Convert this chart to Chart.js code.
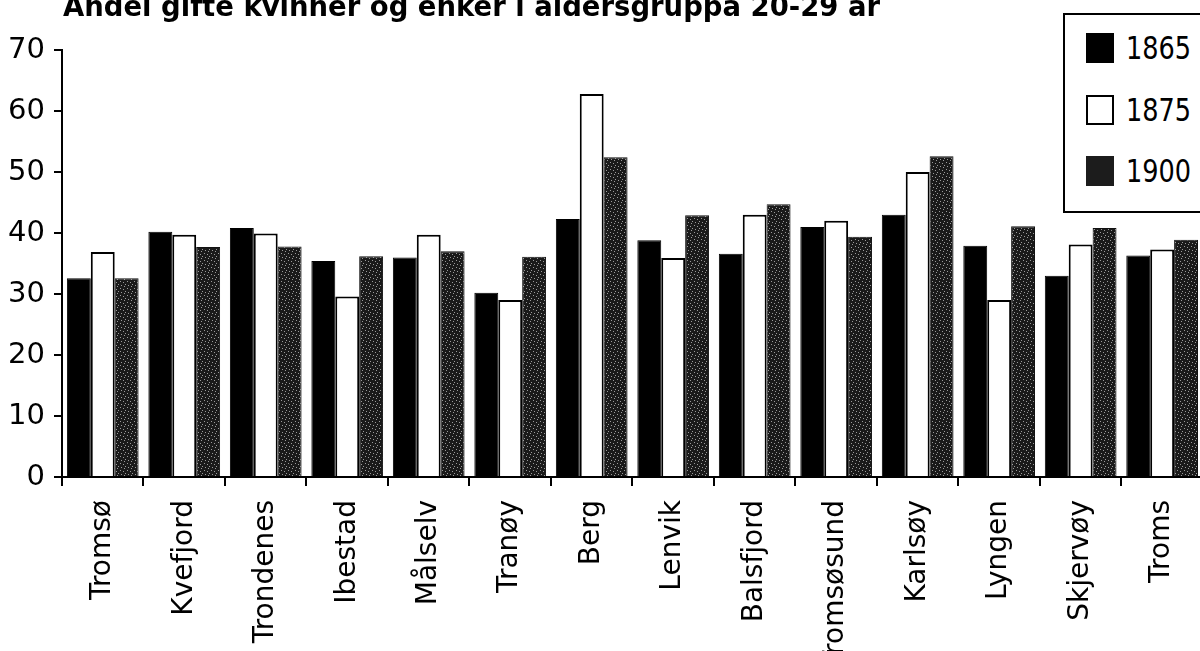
<!DOCTYPE html>
<html>
<head>
<meta charset="utf-8">
<script src="https://cdn.jsdelivr.net/npm/chart.js@4"></script>
<style>
    body { margin: 0; background: #fff; overflow: hidden; width: 1200px; height: 651px; position: relative; }
    #wrap { position: absolute; left: 0; top: 0; width: 1210px; height: 651px; }
    #legend {
        position: absolute; left: 1063px; top: 13px; width: 160px; height: 196px;
        border: 2px solid #000; background: #fff; font-family: "DejaVu Sans", sans-serif;
    }
    .item { position: absolute; left: 21px; height: 30px; display: flex; align-items: center; }
    .sw { width: 28px; height: 30px; box-sizing: border-box; margin-right: 12px; }
    .lbl { font-size: 32px; display: inline-block; transform: scaleX(0.8); transform-origin: left center; color: #000; }
</style>
</head>
<body>
<div id="wrap"><canvas id="chart"></canvas></div>
<div id="legend">
    <div class="item" style="top:18px"><div class="sw" style="background:#000"></div><span class="lbl">1865</span></div>
    <div class="item" style="top:80px"><div class="sw" style="background:#fff;border:2px solid #000"></div><span class="lbl">1875</span></div>
    <div class="item" style="top:141px"><div class="sw" style="background:#1c1c1c"></div><span class="lbl">1900</span></div>
</div>
<script>
// Andel gifte kvinner og enker, 20-29 år
const kommuner = ['Tromsø', 'Kvefjord', 'Trondenes', 'Ibestad', 'Målselv', 'Tranøy', 'Berg',
    'Lenvik', 'Balsfjord', 'Tromsøsund', 'Karlsøy', 'Lyngen', 'Skjervøy', 'Troms'];
const aar1865 = [32.6, 40.2, 40.8, 35.4, 36.0, 30.2, 42.3, 38.8, 36.6, 41.0, 43.0, 37.9, 33.0, 36.3];
const aar1875 = [36.9, 39.7, 39.9, 29.6, 39.7, 29.0, 62.8, 35.9, 43.0, 42.0, 50.0, 29.0, 38.1, 37.3];
const aar1900 = [32.6, 37.7, 37.8, 36.2, 37.0, 36.1, 52.4, 42.9, 44.7, 39.4, 52.6, 41.1, 40.8, 38.9];
const yTicks = [0, 10, 20, 30, 40, 50, 60, 70];
const tittel = 'Andel gifte kvinner og enker i aldersgruppa 20-29 år';

// speckled fill for 1900 bars
function makeSpeckle() {
    const c = document.createElement('canvas');
    c.width = 7; c.height = 7;
    const g = c.getContext('2d');
    g.fillStyle = '#1a1a1a';
    g.fillRect(0, 0, 7, 7);
    g.fillStyle = '#9a9a9a';
    [[1, 1], [4, 2], [2, 5], [6, 4], [5, 6]].forEach(p => g.fillRect(p[0], p[1], 1, 1));
    return g.createPattern(c, 'repeat');
}

const titlePlugin = {
    id: 'topTitle',
    afterDraw(chart) {
        const ctx = chart.ctx;
        ctx.save();
        ctx.font = 'bold 29px "DejaVu Sans"';
        ctx.fillStyle = '#000';
        ctx.textBaseline = 'alphabetic';
        ctx.fillText(tittel, 63, 16, 817);
        ctx.restore();
    }
};

const ctx = document.getElementById('chart');
new Chart(ctx, {
    type: 'bar',
    data: {
        labels: kommuner,
        datasets: [{
            label: '1865',
            data: aar1865,
            backgroundColor: '#000',
            borderColor: '#000',
            borderWidth: 1
        }, {
            label: '1875',
            data: aar1875,
            backgroundColor: '#fff',
            borderColor: '#000',
            borderWidth: 2
        }, {
            label: '1900',
            data: aar1900,
            backgroundColor: makeSpeckle(),
            borderColor: '#111',
            borderWidth: 1
        }]
    },
    options: {
        responsive: true,
        maintainAspectRatio: false,
        animation: false,
        categoryPercentage: 0.88,
        barPercentage: 1.0,
        layout: { padding: { top: 50, right: 7, left: 0, bottom: 0 } },
        plugins: {
            legend: { display: false },
            tooltip: { enabled: false }
        },
        scales: {
            x: {
                afterFit: s => { s.height = 174; },
                border: { display: true, color: '#000', width: 2 },
                grid: { display: true, drawOnChartArea: false, drawTicks: true, tickLength: 9, color: '#000', lineWidth: 2, offset: true },
                ticks: {
                    color: '#000',
                    font: { family: 'DejaVu Sans', size: 28 },
                    minRotation: 90,
                    maxRotation: 90,
                    padding: 14,
                    autoSkip: false
                }
            },
            y: {
                min: 0,
                max: 70,
                afterFit: s => { s.width = 62; },
                afterBuildTicks: s => { s.ticks = yTicks.map(v => ({ value: v })); },
                border: { display: true, color: '#000', width: 2 },
                grid: { display: true, drawOnChartArea: false, drawTicks: true, tickLength: 8, color: '#000', lineWidth: 2 },
                ticks: {
                    color: '#000',
                    font: { family: 'DejaVu Sans', size: 29 },
                    padding: 9
                }
            }
        }
    },
    plugins: [titlePlugin]
});
</script>
</body>
</html>
